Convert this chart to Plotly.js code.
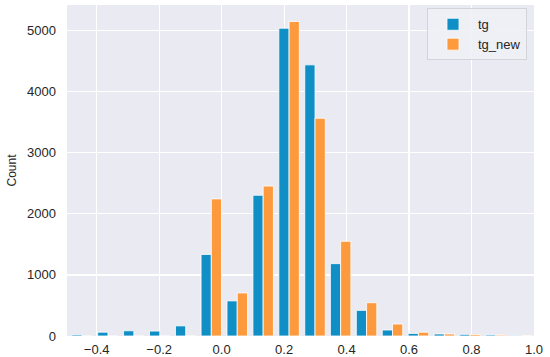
<!DOCTYPE html>
<html>
<head>
<meta charset="utf-8">
<script src="https://cdn.plot.ly/plotly-3.0.1.min.js"></script>
<style>html,body{margin:0;padding:0;background:#fff;}#chart{width:550px;height:357px;}</style>
</head>
<body>
<div id="chart"></div>
<script>
// Histogram bin centers (bin width ~0.0828)
var binCenters = [-0.447, -0.364, -0.281, -0.198, -0.115, -0.033, 0.050, 0.133, 0.216,
                  0.299, 0.381, 0.464, 0.547, 0.630, 0.713, 0.795, 0.878, 0.961];
var tgCounts    = [20, 62, 86, 81, 166, 1335, 575, 2305, 5040, 4440, 1185, 420, 98, 42, 33, 27, 18, 10];
var tgNewCounts = [0, 0, 0, 0, 0, 2245, 705, 2455, 5150, 3565, 1550, 545, 196, 62, 33, 25, 15, 8];
var seriesNames = ['tg', 'tg_new'];
var yTicks = [0, 1000, 2000, 3000, 4000, 5000];
var xTicks = [-0.4, -0.2, 0.0, 0.2, 0.4, 0.6, 0.8, 1.0];

var colors = ['#0f8fc6', '#fd9a3d'];
var traces = [
  {type: 'bar', x: binCenters, y: tgCounts, name: seriesNames[0],
   marker: {color: colors[0], line: {color: '#ffffff', width: 0.8}}},
  {type: 'bar', x: binCenters, y: tgNewCounts, name: seriesNames[1],
   marker: {color: colors[1], line: {color: '#ffffff', width: 0.8}}}
];

var font = {family: 'Liberation Sans, Arial, sans-serif', size: 13, color: '#262626'};
var layout = {
  width: 550, height: 357,
  margin: {l: 67, r: 16, t: 5, b: 21, pad: 0},
  paper_bgcolor: '#ffffff',
  plot_bgcolor: '#eaeaf2',
  font: font,
  barmode: 'group',
  bargap: 0.2,
  bargroupgap: 0,
  showlegend: true,
  legend: {
    x: 0.985, xanchor: 'right', y: 0.99, yanchor: 'top',
    bgcolor: 'rgba(240,240,246,0.9)', bordercolor: '#d4d4d8', borderwidth: 1,
    font: {family: font.family, size: 13, color: '#262626'},
    itemwidth: 40,
    tracegroupgap: 0
  },
  xaxis: {
    range: [-0.495, 1.0],
    tickmode: 'array', tickvals: xTicks,
    ticktext: xTicks.map(function(v){ return (v < 0 ? '\u2212' : '') + Math.abs(v).toFixed(1); }),
    showgrid: true, gridcolor: '#ffffff', gridwidth: 1.2,
    zeroline: false, showline: false, ticks: '',
    ticklabelstandoff: 4,
    tickfont: font
  },
  yaxis: {
    range: [0, 5420],
    tickmode: 'array', tickvals: yTicks,
    showgrid: true, gridcolor: '#ffffff', gridwidth: 1.2,
    zeroline: false, showline: false, ticks: '',
    ticklabelstandoff: 10,
    tickfont: font,
    title: {text: 'Count', font: {family: font.family, size: 12, color: '#262626'}, standoff: 7}
  }
};
Plotly.newPlot('chart', traces, layout, {displayModeBar: false, staticPlot: true});
</script>
</body>
</html>
